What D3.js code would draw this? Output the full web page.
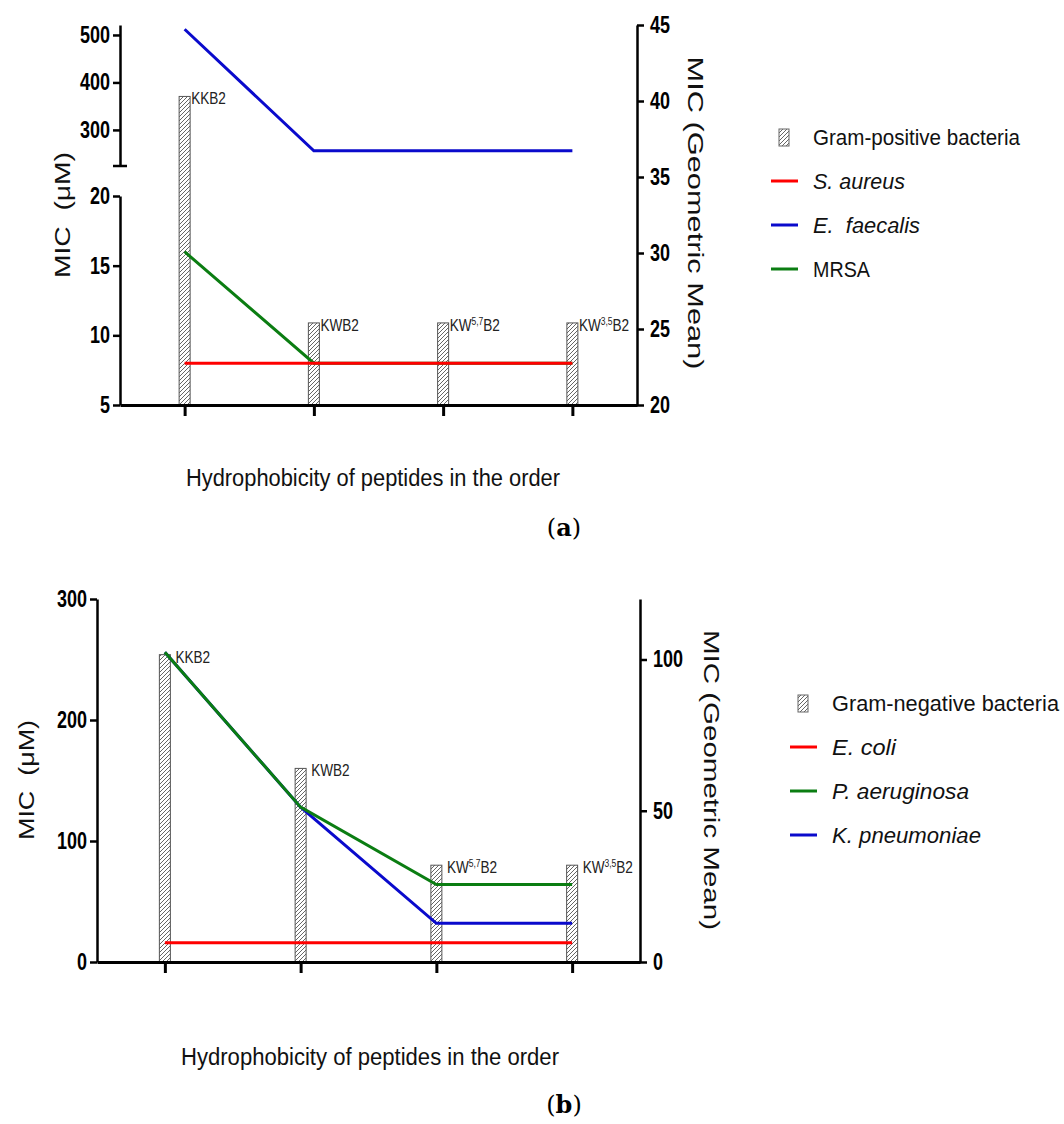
<!DOCTYPE html>
<html><head><meta charset="utf-8">
<script src="https://cdn.jsdelivr.net/npm/d3@7"></script>
<style>body{margin:0;background:#fff}svg{display:block}text{white-space:pre}</style>
</head><body>
<script>
// ---------- DATA ----------
const peptides = ["KKB2", "KWB2", "KW5,7B2", "KW3,5B2"];
const peptideLabelParts = [["KKB2", "", ""], ["KWB2", "", ""], ["KW", "5,7", "B2"], ["KW", "3,5", "B2"]];

// (a) Gram-positive
const posGeoMean = [40.3, 25.4, 25.4, 25.4];
const sAureus = [8, 8, 8, 8];
const eFaecalis = [512, 256, 256, 256];
const mrsa = [16, 8, 8, 8];
const posLeftTicksHigh = [300, 400, 500];
const posLeftTicksLow = [5, 10, 15, 20];
const posRightTicks = [20, 25, 30, 35, 40, 45];

// (b) Gram-negative
const negGeoMean = [101.6, 64, 32, 32];
const eColi = [16, 16, 16, 16];
const pAeruginosa = [256, 128, 64, 64];
const kPneumoniae = [256, 128, 32, 32];
const negLeftTicks = [0, 100, 200, 300];
const negRightTicks = [0, 50, 100];

const RED = "#ff0000", BLUE = "#0a0acc", GREEN = "#0b7d12";
const SANS = "'Liberation Sans', Arial, sans-serif";

// ---------- SVG ----------
const svg = d3.select("body").append("svg").attr("width", 1064).attr("height", 1124);
const defs = svg.append("defs");
const pat = defs.append("pattern").attr("id", "hatch").attr("patternUnits", "userSpaceOnUse")
  .attr("width", 4).attr("height", 4);
pat.append("rect").attr("width", 4).attr("height", 4).attr("fill", "#fff");
pat.append("path").attr("d", "M-1,1 l2,-2 M0,4 l4,-4 M3,5 l2,-2")
  .attr("stroke", "#555").attr("stroke-width", 0.9);

function styleAxis(g, sw) {
  g.selectAll("path.domain").attr("stroke", "#000").attr("stroke-width", sw);
  g.selectAll(".tick line").attr("stroke", "#000").attr("stroke-width", sw);
  g.selectAll(".tick text").attr("font-family", SANS).attr("font-weight", "bold")
    .attr("font-size", 23).attr("fill", "#000")
    .each(function () {
      this.setAttribute("textLength", this.textContent.length * 10);
      this.setAttribute("lengthAdjust", "spacingAndGlyphs");
    });
}
function fitText(sel, w) {
  sel.attr("textLength", w).attr("lengthAdjust", "spacingAndGlyphs");
  return sel;
}

function drawBars(g, x, y, vals, base, labelGap) {
  const bw = 11;
  g.selectAll("rect.bar").data(vals).join("rect").attr("class", "bar")
    .attr("x", (d, i) => x(peptides[i]) - bw / 2)
    .attr("y", d => y(d))
    .attr("width", bw)
    .attr("height", d => y(base) - y(d))
    .attr("fill", "url(#hatch)").attr("stroke", "#555").attr("stroke-width", 1);
  vals.forEach((v, i) => {
    const p = peptideLabelParts[i];
    const lx = x(peptides[i]) + bw / 2 + labelGap;
    const t = g.append("text").attr("transform", `translate(${lx},${y(v) + 8}) scale(0.85,1)`)
      .attr("font-family", SANS).attr("font-size", 16).attr("fill", "#222");
    t.append("tspan").text(p[0]);
    if (p[1]) {
      t.append("tspan").attr("dy", -6).attr("font-size", 10).text(p[1]);
      t.append("tspan").attr("dy", 6).text(p[2]);
    }
  });
}
function drawLine(g, x, yf, vals, color) {
  g.append("path").datum(vals)
    .attr("d", d3.line().x((d, i) => x(peptides[i])).y(d => yf(d)))
    .attr("fill", "none").attr("stroke", color).attr("stroke-width", 3);
}
function legend(g, x0, y0, title, items) {
  const row = 44;
  g.append("rect").attr("x", x0 + 8).attr("y", y0 - 8).attr("width", 10).attr("height", 17)
    .attr("fill", "url(#hatch)").attr("stroke", "#666").attr("stroke-width", 1);
  fitText(g.append("text").attr("x", x0 + 42).attr("y", y0 + 8).attr("font-family", SANS)
    .attr("font-size", 22).attr("fill", "#111").text(title[0]), title[1]);
  items.forEach((it, i) => {
    const cy = y0 + row * (i + 1);
    g.append("line").attr("x1", x0).attr("x2", x0 + 27).attr("y1", cy).attr("y2", cy)
      .attr("stroke", it.color).attr("stroke-width", 3);
    fitText(g.append("text").attr("x", x0 + 42).attr("y", cy + 8).attr("font-family", SANS)
      .attr("font-size", 22).attr("fill", "#111").attr("font-style", it.italic ? "italic" : "normal")
      .text(it.name), it.w);
  });
}

// ---------- (a) ----------
{
  const g = svg.append("g");
  const x = d3.scalePoint().domain(peptides).range([120, 637]).padding(0.5);
  const yR = d3.scaleLinear().domain([20, 45]).range([405, 25]);
  const yLow = d3.scaleLinear().domain([5, 20]).range([405, 196]);
  const yHigh = d3.scaleLinear().domain([224, 521]).range([166, 25]);
  const yL = v => (v >= 224 ? yHigh(v) : yLow(v));

  drawBars(g, x, yR, posGeoMean, 20, 1);
  drawLine(g, x, yL, eFaecalis, BLUE);
  drawLine(g, x, yL, mrsa, GREEN);
  drawLine(g, x, yL, sAureus, RED);

  const gl1 = g.append("g").attr("transform", "translate(120,0)")
    .call(d3.axisLeft(yHigh).tickValues(posLeftTicksHigh).tickSize(7).tickSizeOuter(0).tickPadding(3));
  styleAxis(gl1, 2.5);
  gl1.append("line").attr("x1", -7).attr("x2", 7).attr("y1", 166).attr("y2", 166)
    .attr("stroke", "#000").attr("stroke-width", 2.5);
  const gl2 = g.append("g").attr("transform", "translate(120,0)")
    .call(d3.axisLeft(yLow).tickValues(posLeftTicksLow).tickSize(7).tickSizeOuter(0).tickPadding(3));
  styleAxis(gl2, 2.5);
  const gr = g.append("g").attr("transform", "translate(637,0)")
    .call(d3.axisRight(yR).tickValues(posRightTicks).tickSize(7).tickSizeOuter(0).tickPadding(6));
  styleAxis(gr, 2.5);
  const gx = g.append("g").attr("transform", "translate(0,405)")
    .call(d3.axisBottom(x).tickSize(11).tickSizeOuter(0).tickFormat(""));
  styleAxis(gx, 3);

  fitText(g.append("text").attr("transform", "translate(70,215) rotate(-90)").attr("text-anchor", "middle")
    .attr("font-family", SANS).attr("font-size", 22).attr("fill", "#111").text("MIC  (μM)"), 126);
  fitText(g.append("text").attr("transform", "translate(688,213) rotate(90)").attr("text-anchor", "middle")
    .attr("font-family", SANS).attr("font-size", 22).attr("fill", "#111").text("MIC (Geometric Mean)"), 313);
  fitText(g.append("text").attr("x", 186).attr("y", 486).attr("font-family", SANS).attr("font-size", 23)
    .attr("fill", "#111").text("Hydrophobicity of peptides in the order"), 374);
  g.append("text").attr("x", 564).attr("y", 536).attr("text-anchor", "middle")
    .attr("font-family", "'DejaVu Serif', 'Liberation Serif', serif").attr("font-size", 24).attr("fill", "#000")
    .html("(<tspan font-weight='bold'>a</tspan>)");

  legend(g, 771, 137, ["Gram-positive bacteria", 207], [
    { name: "S. aureus", color: RED, italic: true, w: 92 },
    { name: "E.  faecalis", color: BLUE, italic: true, w: 107 },
    { name: "MRSA", color: GREEN, italic: false, w: 57 }
  ]);
}

// ---------- (b) ----------
{
  const g = svg.append("g");
  const x = d3.scalePoint().domain(peptides).range([97, 640]).padding(0.5);
  const yL = d3.scaleLinear().domain([0, 300]).range([962, 599]);
  const yR = d3.scaleLinear().domain([0, 120]).range([962, 599]);

  drawBars(g, x, yR, negGeoMean, 0, 5);
  drawLine(g, x, yL, eColi, RED);
  drawLine(g, x, yL, kPneumoniae, BLUE);
  drawLine(g, x, yL, pAeruginosa, GREEN);

  const gl = g.append("g").attr("transform", "translate(97,0)")
    .call(d3.axisLeft(yL).tickValues(negLeftTicks).tickSize(7).tickSizeOuter(0).tickPadding(3));
  styleAxis(gl, 2.5);
  const gr = g.append("g").attr("transform", "translate(640,0)")
    .call(d3.axisRight(yR).tickValues(negRightTicks).tickSize(7).tickSizeOuter(0).tickPadding(6));
  styleAxis(gr, 2.5);
  const gx = g.append("g").attr("transform", "translate(0,962)")
    .call(d3.axisBottom(x).tickSize(11).tickSizeOuter(0).tickFormat(""));
  styleAxis(gx, 3);

  fitText(g.append("text").attr("transform", "translate(34,780) rotate(-90)").attr("text-anchor", "middle")
    .attr("font-family", SANS).attr("font-size", 22).attr("fill", "#111").text("MIC  (μM)"), 120);
  fitText(g.append("text").attr("transform", "translate(704,780) rotate(90)").attr("text-anchor", "middle")
    .attr("font-family", SANS).attr("font-size", 22).attr("fill", "#111").text("MIC (Geometric Mean)"), 300);
  fitText(g.append("text").attr("x", 181).attr("y", 1065).attr("font-family", SANS).attr("font-size", 23)
    .attr("fill", "#111").text("Hydrophobicity of peptides in the order"), 378);
  g.append("text").attr("x", 564).attr("y", 1113).attr("text-anchor", "middle")
    .attr("font-family", "'DejaVu Serif', 'Liberation Serif', serif").attr("font-size", 24).attr("fill", "#000")
    .html("(<tspan font-weight='bold'>b</tspan>)");

  legend(g, 790, 703, ["Gram-negative bacteria", 227], [
    { name: "E. coli", color: RED, italic: true, w: 64 },
    { name: "P. aeruginosa", color: GREEN, italic: true, w: 137 },
    { name: "K. pneumoniae", color: BLUE, italic: true, w: 149 }
  ]);
}
</script>
</body></html>
